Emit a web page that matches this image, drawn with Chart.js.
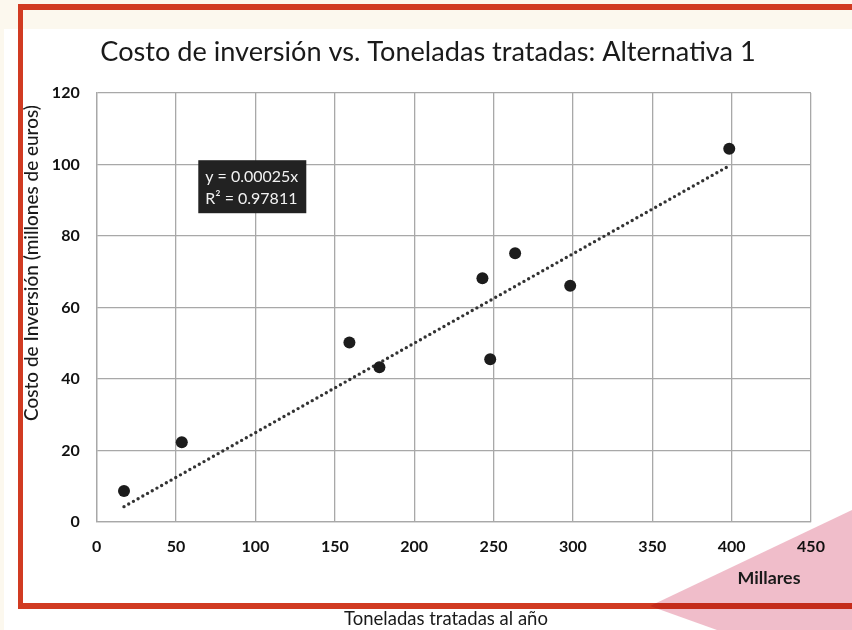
<!DOCTYPE html>
<html>
<head>
<meta charset="utf-8">
<script src="https://cdn.jsdelivr.net/npm/chart.js@4.4.1/dist/chart.umd.min.js"></script>
<style>
html,body{margin:0;padding:0;background:#fcf8ee;}
canvas{display:block;}
</style>
</head>
<body>
<canvas id="c" width="852" height="630"></canvas>
<script>
// ---- data ----
const toneladasMiles = [17.2, 53.6, 159.2, 178.1, 243.0, 247.9, 263.6, 298.3, 398.5];
const costoMillones = [8.7, 22.3, 50.2, 43.3, 68.2, 45.5, 75.2, 66.1, 104.4];
const trendX = [17.2, 397.5];
const trendY = [4.3, 99.4];
const xTicks = [0, 50, 100, 150, 200, 250, 300, 350, 400, 450];
const yTicks = [0, 20, 40, 60, 80, 100, 120];
const titleText = 'Costo de inversión vs. Toneladas tratadas: Alternativa 1';
const yTitleText = 'Costo de Inversión (millones de euros)';
const xTitleText = 'Toneladas tratadas al año';
const unitText = 'Millares';
const eqLines = ['y = 0.00025x', 'R² = 0.97811'];

const FAMILY = 'Lato, "Open Sans", sans-serif';

function fitFont(ctx, text, width, weight) {
  ctx.font = weight + ' 100px ' + FAMILY;
  const w = ctx.measureText(text).width;
  return 100 * width / w;
}

const decor = {
  id: 'decor',
  beforeDraw(chart) {
    const ctx = chart.ctx;
    ctx.save();
    ctx.fillStyle = '#fcf8ee';
    ctx.fillRect(0, 0, 852, 630);
    ctx.fillStyle = '#ffffff';
    ctx.fillRect(4, 29, 848, 601);
    // red frame
    ctx.fillStyle = '#d13b22';
    ctx.fillRect(18, 4, 834, 6);
    ctx.fillRect(18, 4, 5, 605);
    ctx.fillRect(18, 603, 834, 6);
    // pink triangle
    ctx.globalCompositeOperation = 'multiply';
    ctx.fillStyle = '#f0bdca';
    ctx.beginPath();
    ctx.moveTo(650, 606);
    ctx.lineTo(852, 510);
    ctx.lineTo(852, 630);
    ctx.lineTo(717, 630);
    ctx.closePath();
    ctx.fill();
    ctx.restore();
  },
  afterDraw(chart) {
    const ctx = chart.ctx;
    const xs = chart.scales.x, ys = chart.scales.y;
    ctx.save();
    ctx.fillStyle = '#1a1a1a';
    ctx.textAlign = 'center';
    ctx.textBaseline = 'middle';
    // title
    let fs = fitFont(ctx, titleText, 656, '400');
    ctx.font = '400 ' + fs + 'px ' + FAMILY;
    ctx.fillText(titleText, 428, 52);
    // y title
    fs = fitFont(ctx, yTitleText, 316, '500');
    ctx.save();
    ctx.translate(32, 263);
    ctx.rotate(-Math.PI / 2);
    ctx.font = '500 ' + fs + 'px ' + FAMILY;
    ctx.fillText(yTitleText, 0, 0);
    ctx.restore();
    // unit
    fs = fitFont(ctx, unitText, 63, '700');
    ctx.font = '700 ' + fs + 'px ' + FAMILY;
    ctx.fillText(unitText, 769, 578);
    // x title
    fs = fitFont(ctx, xTitleText, 204, '400');
    ctx.font = '400 ' + fs + 'px ' + FAMILY;
    ctx.fillText(xTitleText, 446, 619);
    // equation box anchored in data units
    const bx = xs.getPixelForValue(64), by = ys.getPixelForValue(101.2);
    ctx.fillStyle = '#222222';
    ctx.fillRect(bx, by, 108, 53);
    ctx.fillStyle = '#f2f2f2';
    ctx.textAlign = 'left';
    fs = fitFont(ctx, eqLines[0], 93, '400');
    ctx.font = '400 ' + fs + 'px ' + FAMILY;
    ctx.fillText(eqLines[0], bx + 7, by + 17);
    ctx.fillText(eqLines[1], bx + 7, by + 39);
    ctx.restore();
  }
};

new Chart(document.getElementById('c'), {
  type: 'scatter',
  data: {
    datasets: [
      {
        label: 'Costo',
        data: toneladasMiles.map((x, i) => ({x: x, y: costoMillones[i]})),
        pointRadius: 6,
        pointBackgroundColor: '#1c1c1c',
        pointBorderColor: '#1c1c1c',
        pointBorderWidth: 0,
        order: 1
      },
      {
        label: 'Tendencia',
        data: trendX.map((x, i) => ({x: x, y: trendY[i]})),
        showLine: true,
        pointRadius: 0,
        borderColor: '#333333',
        borderWidth: 3.4,
        borderDash: [0, 5.4],
        borderCapStyle: 'round',
        order: 2
      }
    ]
  },
  options: {
    responsive: false,
    animation: false,
    devicePixelRatio: 1,
    layout: { padding: { left: 0, right: 41, top: 93, bottom: 68 } },
    plugins: { legend: { display: false }, tooltip: { enabled: false }, title: { display: false } },
    scales: {
      x: {
        type: 'linear', min: 0, max: 450,
        afterBuildTicks: s => { s.ticks = xTicks.map(v => ({value: v})); },
        afterFit: s => { s.height = 40; },
        grid: { color: '#a8a8a8', lineWidth: 1.3, drawTicks: false },
        border: { color: '#a8a8a8', width: 1.3 },
        ticks: { padding: 15, color: '#111', font: { family: FAMILY, weight: '700', size: 16 } }
      },
      y: {
        type: 'linear', min: 0, max: 120,
        afterBuildTicks: s => { s.ticks = yTicks.map(v => ({value: v})); },
        afterFit: s => { s.width = 96.7; },
        grid: { color: '#a8a8a8', lineWidth: 1.3, drawTicks: false },
        border: { color: '#a8a8a8', width: 1.3 },
        ticks: { padding: 17, color: '#111', font: { family: FAMILY, weight: '700', size: 16 } }
      }
    }
  },
  plugins: [decor]
});
</script>
</body>
</html>
